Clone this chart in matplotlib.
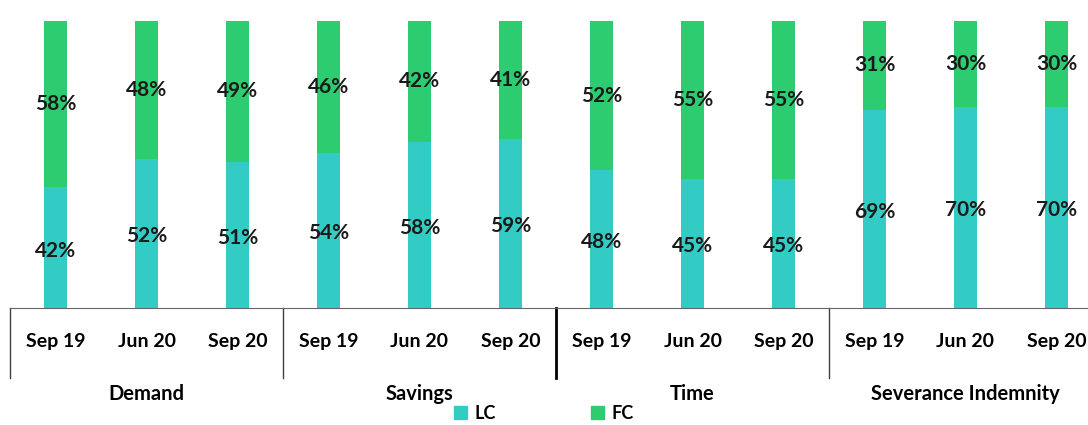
import matplotlib.pyplot as plt
from matplotlib.patches import Patch

plt.rcParams['font.family'] = ['Lato', 'DejaVu Sans']

groups = ['Demand', 'Savings', 'Time', 'Severance Indemnity']
periods = ['Sep 19', 'Jun 20', 'Sep 20']
lc = [42, 52, 51, 54, 58, 59, 48, 45, 45, 69, 70, 70]
fc = [58, 48, 49, 46, 42, 41, 52, 55, 55, 31, 30, 30]

lc_color = '#33CCC4'
fc_color = '#2ECC71'

fig = plt.figure(figsize=(10.88, 4.25), dpi=100)
# axes runs a bit past the right edge, like the cropped original
ax = fig.add_axes([10 / 1088, 117 / 425, 1092 / 1088, 287 / 425])

x = list(range(len(lc)))
ax.bar(x, lc, width=0.25, color=lc_color, label='LC')
ax.bar(x, fc, width=0.25, bottom=lc, color=fc_color, label='FC')

for i in x:
    ax.text(i, lc[i] / 2 - 1, f'{lc[i]}%', ha='center', va='center',
            fontsize=15, fontweight='bold', color='#1a1a1a')
    ax.text(i, lc[i] + fc[i] / 2, f'{fc[i]}%', ha='center', va='center',
            fontsize=15, fontweight='bold', color='#1a1a1a')

ax.set_xlim(-0.5, 11.5)
ax.set_ylim(0, 100)
for s in ['top', 'right', 'left']:
    ax.spines[s].set_visible(False)
ax.spines['bottom'].set_color('#666666')
ax.set_yticks([])
ax.set_xticks([])

tr = ax.get_xaxis_transform()
for i in x:
    ax.text(i, -0.115, periods[i % 3], transform=tr, ha='center', va='center',
            fontsize=14, fontweight='bold')
for g, name in enumerate(groups):
    ax.text(g * 3 + 1, -0.3, name, transform=tr, ha='center', va='center',
            fontsize=14.5, fontweight='bold')

for sx in [-0.5, 2.5, 5.5, 8.5]:
    lw = 2 if sx == 5.5 else 1
    col = 'black' if sx == 5.5 else '#404040'
    ax.plot([sx, sx], [0, -0.244], transform=tr, color=col, lw=lw, clip_on=False)

handles = [Patch(color=lc_color, label='LC'), Patch(color=fc_color, label='FC')]
fig.legend(handles=handles, loc='center', bbox_to_anchor=(0.5, 0.028), ncol=2,
           frameon=False, handlelength=0.7, handleheight=0.7, columnspacing=5.3,
           handletextpad=0.4, prop={'weight': 'bold', 'size': 13})

fig.savefig('out.png', dpi=100)
